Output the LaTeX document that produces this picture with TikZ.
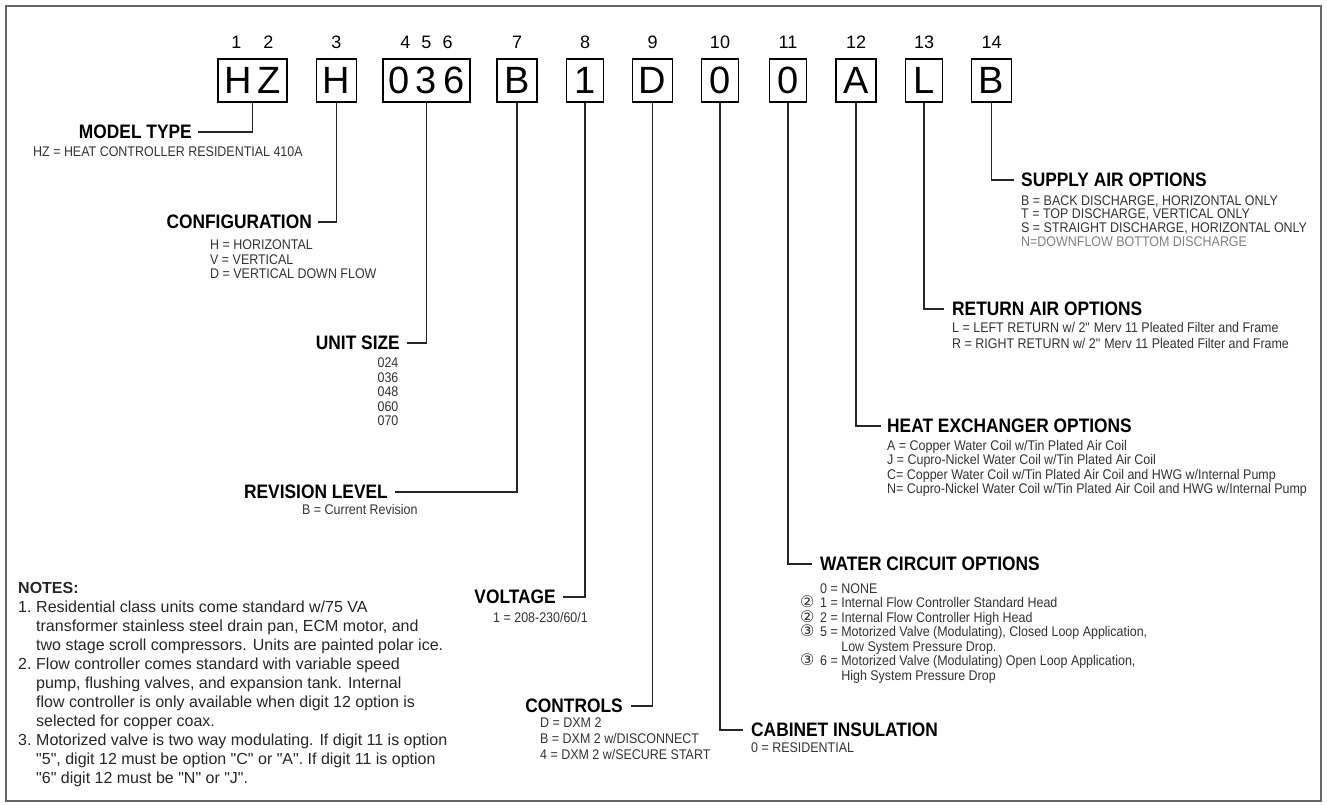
\documentclass[tikz,border=0pt]{standalone}
\usepackage{fontspec}
\setmainfont{Liberation Sans}
\newfontfamily\narrowsans[FakeStretch=0.89]{Liberation Sans}
\newfontfamily\symsans{DejaVu Sans}
\usetikzlibrary{positioning}

\begin{document}
\begin{tikzpicture}[
    x=1pt, y=-1pt,
    node distance=7pt,
    digitbox/.style={
        rectangle,
        draw,
        line width=1.6pt,
        minimum width=40pt,
        minimum height=43pt,
        inner sep=0pt,
        font=\fontsize{38}{38}\selectfont
    },
    digitnum/.style={inner sep=0pt, font=\fontsize{18}{18}\selectfont},
    fieldtitle/.style={inner sep=0pt, font=\narrowsans\bfseries\fontsize{19.5}{20}\selectfont},
    fieldopts/.style={
        inner sep=0pt,
        align=left,
        text=black!80,
        font=\narrowsans\fontsize{14}{14.5}\selectfont
    },
    conn/.style={line width=1.8pt, black!85}
]
    \useasboundingbox (0,0) rectangle (1327,805);
    \draw[line width=2.5pt, black!60] (6,6) rectangle (1321,801);

    \node[digitbox, minimum width=69pt] (d1) at (252.5,80.5) {H\,Z};
    \node[digitbox] (d3) at (336.5,80.5) {H};
    \node[digitbox, minimum width=87pt] (d4) at (426.5,80.5) {0\,3\,6};
    \node[digitbox] (d7) at (517,80.5) {B};
    \node[digitbox, minimum width=37pt] (d8) at (585,80.5) {1};
    \node[digitbox] (d9) at (652.5,80.5) {D};
    \node[digitbox, minimum width=37pt] (d10) at (720,80.5) {0};
    \node[digitbox, minimum width=37pt] (d11) at (788,80.5) {0};
    \node[digitbox] (d12) at (856,80.5) {A};
    \node[digitbox, minimum width=37pt] (d13) at (924,80.5) {L};
    \node[digitbox] (d14) at (991.5,80.5) {B};

    \node[digitnum, above=9pt of d1] (n1) {1\hspace{22pt}2};
    \node[digitnum, above=9pt of d3] (n3) {3};
    \node[digitnum, above=9pt of d4] (n4) {4\hspace{11pt}5\hspace{11pt}6};
    \node[digitnum, above=9pt of d7] (n7) {7};
    \node[digitnum, above=9pt of d8] (n8) {8};
    \node[digitnum, above=9pt of d9] (n9) {9};
    \node[digitnum, above=9pt of d10] (n10) {10};
    \node[digitnum, above=9pt of d11] (n11) {11};
    \node[digitnum, above=9pt of d12] (n12) {12};
    \node[digitnum, above=9pt of d13] (n13) {13};
    \node[digitnum, above=9pt of d14] (n14) {14};

    \node[fieldtitle, anchor=east] (model) at (192,132) {MODEL TYPE};
    \node[fieldopts, anchor=west] (modelopts) at (33,152) {HZ = HEAT CONTROLLER RESIDENTIAL 410A};
    \node[fieldtitle, anchor=east] (cfg) at (312,222) {CONFIGURATION};
    \node[fieldopts, anchor=north west] (cfgopts) at (210,240) {H = HORIZONTAL\\V = VERTICAL\\D = VERTICAL DOWN FLOW};
    \node[fieldtitle, anchor=east] (size) at (400,343) {UNIT SIZE};
    \node[fieldopts, align=center, anchor=north] (sizeopts) at (388,358) {024\\036\\048\\060\\070};
    \node[fieldtitle, anchor=east] (rev) at (388,492) {REVISION LEVEL};
    \node[fieldopts, anchor=west] (revopts) at (302,509) {B = Current Revision};
    \node[fieldtitle, anchor=east] (volt) at (556,597) {VOLTAGE};
    \node[fieldopts, anchor=west] (voltopts) at (493,617) {1 = 208-230/60/1};
    \node[fieldtitle, anchor=east] (ctrl) at (623,706) {CONTROLS};
    \node[fieldopts, anchor=north west, font=\narrowsans\fontsize{14}{16}\selectfont] (ctrlopts) at (540,718) {D = DXM 2\\B = DXM 2 w/DISCONNECT\\4 = DXM 2 w/SECURE START};

    \node[fieldtitle, anchor=west] (cab) at (751,730) {CABINET INSULATION};
    \node[fieldopts, below=5pt of cab.south west, anchor=north west] (cabopts) {0 = RESIDENTIAL};
    \node[fieldtitle, anchor=west] (water) at (820,564) {WATER CIRCUIT OPTIONS};
    \node[fieldopts, below=12pt of water.south west, anchor=north west, xshift=-20pt] (wateropts) {%
        \begin{tabular}{@{}p{20pt}@{}l@{}}
            & 0 = NONE\\
            \smash{\symsans\fontsize{16}{12}\selectfont ②} & 1 = Internal Flow Controller Standard Head\\
            \smash{\symsans\fontsize{16}{12}\selectfont ②} & 2 = Internal Flow Controller High Head\\
            \smash{\symsans\fontsize{16}{12}\selectfont ③} & 5 = Motorized Valve (Modulating), Closed Loop Application,\\
            & \phantom{5 = }Low System Pressure Drop.\\
            \smash{\symsans\fontsize{16}{12}\selectfont ③} & 6 = Motorized Valve (Modulating) Open Loop Application,\\
            & \phantom{6 = }High System Pressure Drop
        \end{tabular}};
    \node[fieldtitle, anchor=west] (hx) at (887,426) {HEAT EXCHANGER OPTIONS};
    \node[fieldopts, below=7pt of hx.south west, anchor=north west] (hxopts) {A = Copper Water Coil w/Tin Plated Air Coil\\J = Cupro-Nickel Water Coil w/Tin Plated Air Coil\\C= Copper Water Coil w/Tin Plated Air Coil and HWG w/Internal Pump\\N= Cupro-Nickel Water Coil w/Tin Plated Air Coil and HWG w/Internal Pump};
    \node[fieldtitle, anchor=west] (ret) at (952,309) {RETURN AIR OPTIONS};
    \node[fieldopts, below=6pt of ret.south west, anchor=north west, font=\narrowsans\fontsize{14}{16}\selectfont] (retopts) {L = LEFT RETURN w/ 2\textquotedbl{} Merv 11 Pleated Filter and Frame\\R = RIGHT RETURN w/ 2\textquotedbl{} Merv 11 Pleated Filter and Frame};
    \node[fieldtitle, anchor=west] (sup) at (1021,180) {SUPPLY AIR OPTIONS};
    \node[fieldopts, below=8pt of sup.south west, anchor=north west, font=\narrowsans\fontsize{14}{13.8}\selectfont] (supopts) {B = BACK DISCHARGE, HORIZONTAL ONLY\\T = TOP DISCHARGE, VERTICAL ONLY\\S = STRAIGHT DISCHARGE, HORIZONTAL ONLY\\\textcolor{black!50}{N=DOWNFLOW BOTTOM DISCHARGE}};

    \node[anchor=north west, inner sep=0pt, text=black!85, font=\fontsize{16}{19}\selectfont] (notes) at (18,580) {%
        \begin{tabular}{@{}p{18pt}@{}l@{}}
            \multicolumn{2}{@{}l}{\textbf{NOTES:}}\\
            1. & Residential class units come standard w/75 VA\\
            & transformer stainless steel drain pan, ECM motor, and\\
            & two stage scroll compressors. Units are painted polar ice.\\
            2. & Flow controller comes standard with variable speed\\
            & pump, flushing valves, and expansion tank. Internal\\
            & flow controller is only available when digit 12 option is\\
            & selected for copper coax.\\
            3. & Motorized valve is two way modulating. If digit 11 is option\\
            & \textquotedbl5\textquotedbl, digit 12 must be option \textquotedbl C\textquotedbl{} or \textquotedbl A\textquotedbl. If digit 11 is option\\
            & \textquotedbl6\textquotedbl{} digit 12 must be \textquotedbl N\textquotedbl{} or \textquotedbl J\textquotedbl.
        \end{tabular}};

    \draw[conn] (d1.south) |- ([xshift=6pt]model.east);
    \draw[conn] (d3.south) |- ([xshift=6pt]cfg.east);
    \draw[conn] (d4.south) |- ([xshift=7pt]size.east);
    \draw[conn] (d7.south) |- ([xshift=7pt]rev.east);
    \draw[conn] (d8.south) |- ([xshift=7pt]volt.east);
    \draw[conn] (d9.south) |- ([xshift=8pt]ctrl.east);
    \draw[conn] (d10.south) |- ([xshift=-8pt]cab.west);
    \draw[conn] (d11.south) |- ([xshift=-8pt]water.west);
    \draw[conn] (d12.south) |- ([xshift=-6pt]hx.west);
    \draw[conn] (d13.south) |- ([xshift=-8pt]ret.west);
    \draw[conn] (d14.south) |- ([xshift=-7pt]sup.west);
\end{tikzpicture}
\end{document}
